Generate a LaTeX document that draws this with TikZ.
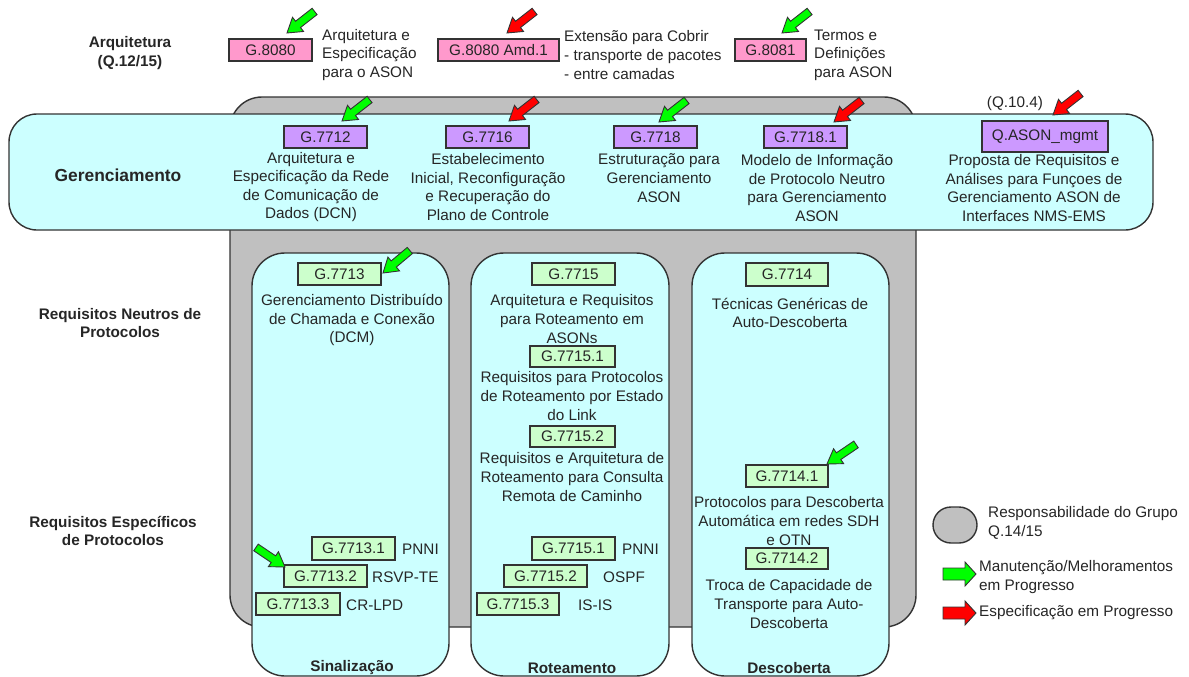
\documentclass[tikz,border=0pt]{standalone}
\usepackage{fontspec}
\setmainfont{Liberation Sans}
\definecolor{txt}{HTML}{262626}
\definecolor{edge}{HTML}{333333}
\definecolor{grayarea}{HTML}{C0C0C0}
\definecolor{cyanarea}{HTML}{CCFFFF}
\definecolor{pinkfill}{HTML}{FF99CC}
\definecolor{lilacfill}{HTML}{CC99FF}
\definecolor{mintfill}{HTML}{CCFFCC}
\definecolor{arrgreen}{HTML}{00FF00}
\definecolor{arrred}{HTML}{FF0000}
\begin{document}
\begin{tikzpicture}[x=1pt,y=-1pt,
  every node/.style={font=\fontsize{15.3}{18.6}\selectfont, text=txt, inner sep=0pt},
  heading/.style={font=\fontsize{15.3}{18.6}\selectfont\bfseries, align=center},
  desc/.style={align=center},
  sidetext/.style={align=left, anchor=west},
  docbox/.style={draw=edge, line width=1.3pt, minimum height=22pt},
  pinkbox/.style={docbox, fill=pinkfill},
  lilacbox/.style={docbox, fill=lilacfill},
  mintbox/.style={docbox, fill=mintfill},
  panel/.style={draw=edge, line width=1.4pt, fill=cyanarea, rounded corners=33pt},
  marker/.style={draw=edge, line width=0.9pt},
  tiltarrow/.pic={\path[pic actions] (0,0) -- (-14,-9) -- (-14,-4) -- (-35,-4)
      -- (-35,4) -- (-14,4) -- (-14,9) -- cycle;},
  legarrow/.pic={\path[pic actions] (0,0) -- (-11,-12) -- (-11,-6) -- (-33,-6)
      -- (-33,6) -- (-11,6) -- (-11,12) -- cycle;}
]
\useasboundingbox (0,0) rectangle (1189,677);
\fill[white] (0,0) rectangle (1189,677);

% group responsibility area and the management band
\draw[draw=edge, line width=1.4pt, fill=grayarea, rounded corners=32pt] (230,97) rectangle (916,627);
\draw[draw=edge, line width=1.4pt, fill=cyanarea, rounded corners=28pt] (9,114) rectangle (1153,230);

% the three columns
\draw[panel] (252,253) rectangle (449,676);
\draw[panel] (471,253) rectangle (669,676);
\draw[panel] (692,253) rectangle (889,676);

% row headings
\node[heading] (hArq) at (130,53) {Arquitetura\\(Q.12/15)};
\node[heading, font=\fontsize{17.4}{20}\selectfont\bfseries] (hGer) at (118,175) {Gerenciamento};
\node[heading] (hNeu) at (120,323) {Requisitos Neutros de\\Protocolos};
\node[heading] (hEsp) at (113,531) {Requisitos Específicos\\de Protocolos};

% architecture row
\node[pinkbox, minimum width=83pt] (b8080) at (270.5,50) {G.8080};
\node[sidetext] (t8080) at (322,55) {Arquitetura e\\Especificação\\para o ASON};
\node[pinkbox, minimum width=121pt] (b8080a) at (498.5,50) {G.8080 Amd.1};
\node[sidetext] (t8080a) at (564,55) {Extensão para Cobrir\\- transporte de pacotes\\- entre camadas};
\node[pinkbox, minimum width=71pt] (b8081) at (770.5,50) {G.8081};
\node[sidetext] (t8081) at (814,55) {Termos e\\Definições\\para ASON};

% management row
\node[lilacbox, minimum width=83pt] (b7712) at (325.5,137) {G.7712};
\node[desc] (t7712) at (311,187) {Arquitetura e\\Especificação da Rede\\de Comunicação de\\Dados (DCN)};
\node[lilacbox, minimum width=83pt] (b7716) at (487.5,137) {G.7716};
\node[desc] (t7716) at (488,187) {Estabelecimento\\Inicial, Reconfiguração\\e Recuperação do\\Plano de Controle};
\node[lilacbox, minimum width=83pt] (b7718) at (655.5,137) {G.7718};
\node[desc] (t7718) at (659,178) {Estruturação para\\Gerenciamento\\ASON};
\node[lilacbox, minimum width=83pt] (b77181) at (805.5,137) {G.7718.1};
\node[desc] (t77181) at (817,188) {Modelo de Informação\\de Protocolo Neutro\\para Gerenciamento\\ASON};
\node[lilacbox, minimum width=126pt, minimum height=31pt] (bqason) at (1045,136.5) {Q.ASON\_mgmt};
\node (tq104) at (1015,104) {(Q.10.4)};
\node[desc] (tqason) at (1034,188) {Proposta de Requisitos e\\Análises para Funçoes de\\Gerenciamento ASON de\\Interfaces NMS-EMS};

% signalling column
\node[mintbox, minimum width=83pt] (b7713) at (339.5,274) {G.7713};
\node[desc] (t7713) at (352,320) {Gerenciamento Distribuído\\de Chamada e Conexão\\(DCM)};
\node[mintbox, minimum width=83pt, minimum height=23pt] (b77131) at (353.5,548.5) {G.7713.1};
\node[anchor=west] (p77131) at (402,549) {PNNI};
\node[mintbox, minimum width=83pt] (b77132) at (325.5,576) {G.7713.2};
\node[anchor=west] (p77132) at (372,577) {RSVP-TE};
\node[mintbox, minimum width=84pt] (b77133) at (298,604) {G.7713.3};
\node[anchor=west] (p77133) at (346,605) {CR-LPD};
\node[heading] (hSin) at (352,668) {Sinalização};

% routing column
\node[mintbox, minimum width=83pt] (b7715) at (573.5,274) {G.7715};
\node[desc] (t7715) at (572,319) {Arquitetura e Requisitos\\para Roteamento em\\ASONs};
\node[mintbox, minimum width=85pt, minimum height=21pt] (b77151u) at (572.5,356.5) {G.7715.1};
\node[desc] (t77151u) at (572,396) {Requisitos para Protocolos\\de Roteamento por Estado\\do Link};
\node[mintbox, minimum width=85pt, minimum height=21pt] (b77152u) at (572.5,436.5) {G.7715.2};
\node[desc] (t77152u) at (572,477) {Requisitos e Arquitetura de\\Roteamento para Consulta\\Remota de Caminho};
\node[mintbox, minimum width=83pt, minimum height=23pt] (b77151) at (573.5,548.5) {G.7715.1};
\node[anchor=west] (p77151) at (622,549) {PNNI};
\node[mintbox, minimum width=83pt] (b77152) at (545.5,576) {G.7715.2};
\node[anchor=west] (p77152) at (603,577) {OSPF};
\node[mintbox, minimum width=82pt] (b77153) at (518,604) {G.7715.3};
\node[anchor=west] (p77153) at (578,605) {IS-IS};
\node[heading] (hRot) at (572,668) {Roteamento};

% discovery column
\node[mintbox, minimum width=82pt, minimum height=23pt] (b7714) at (787,274.5) {G.7714};
\node[desc] (t7714) at (790,313) {Técnicas Genéricas de\\Auto-Descoberta};
\node[mintbox, minimum width=82pt] (b77141) at (787,476) {G.7714.1};
\node[desc] (t77141) at (789,521) {Protocolos para Descoberta\\Automática em redes SDH\\e OTN};
\node[mintbox, minimum width=82pt, minimum height=21pt] (b77142) at (787,558.5) {G.7714.2};
\node[desc] (t77142) at (789,604) {Troca de Capacidade de\\Transporte para Auto-\\Descoberta};
\node[heading] (hDes) at (789,668) {Descoberta};

% status markers
\pic[marker, fill=arrgreen, rotate=218] at (287,33) {tiltarrow};
\pic[marker, fill=arrred, rotate=218] at (507,33) {tiltarrow};
\pic[marker, fill=arrgreen, rotate=218] at (782,33) {tiltarrow};
\pic[marker, fill=arrgreen, rotate=218] at (342,121) {tiltarrow};
\pic[marker, fill=arrred, rotate=218] at (509,121) {tiltarrow};
\pic[marker, fill=arrgreen, rotate=218] at (659,122) {tiltarrow};
\pic[marker, fill=arrred, rotate=218] at (834,122) {tiltarrow};
\pic[marker, fill=arrred, rotate=218] at (1053,115) {tiltarrow};
\pic[marker, fill=arrgreen, rotate=220] at (383,273) {tiltarrow};
\pic[marker, fill=arrgreen, rotate=-34] at (285,567) {tiltarrow};
\pic[marker, fill=arrgreen, rotate=214] at (827,464) {tiltarrow};

% legend
\draw[draw=edge, line width=1.4pt, fill=grayarea, rounded corners=18pt] (933,507) rectangle (977,543);
\node[sidetext] (lg1) at (988,523) {Responsabilidade do Grupo\\Q.14/15};
\pic[marker, fill=arrgreen] at (976,574) {legarrow};
\node[sidetext] (lg2) at (979,577) {Manutenção/Melhoramentos\\em Progresso};
\pic[marker, fill=arrred] at (976,613) {legarrow};
\node[sidetext] (lg3) at (979,613) {Especificação em Progresso};
\end{tikzpicture}
\end{document}
